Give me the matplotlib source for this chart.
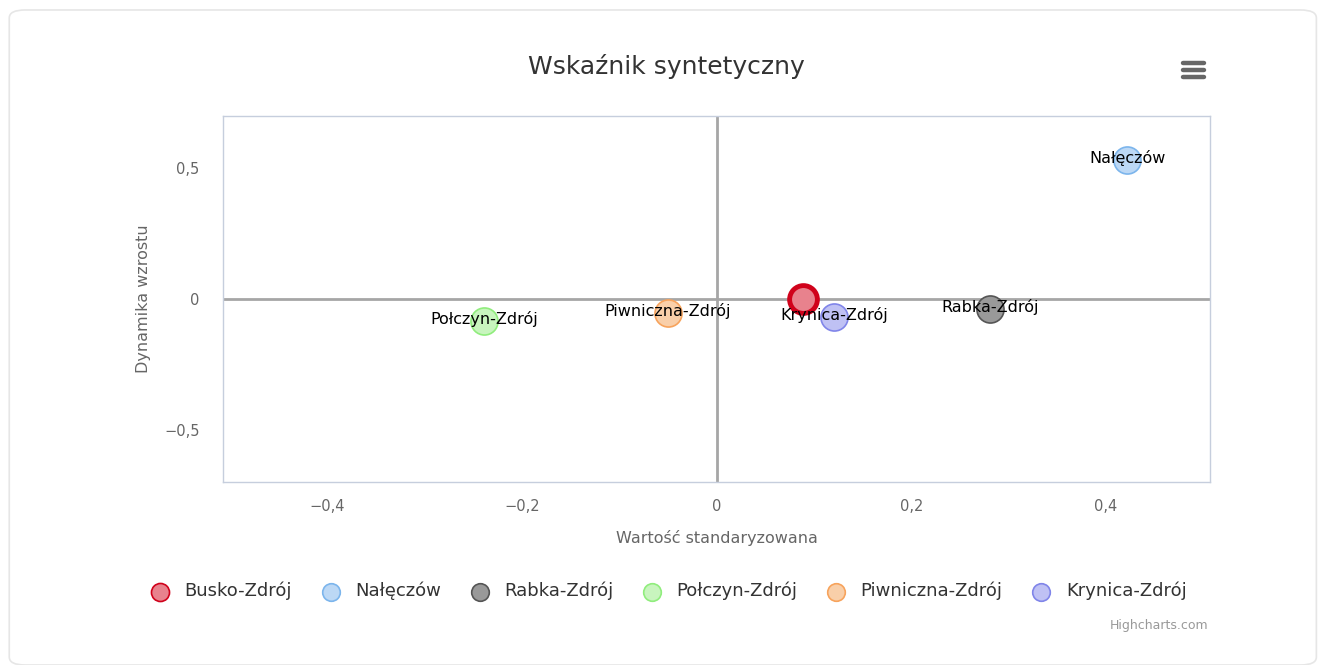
import matplotlib
matplotlib.use('Agg')
import matplotlib.pyplot as plt
from matplotlib.lines import Line2D
from matplotlib.patches import FancyBboxPatch
from matplotlib.ticker import FuncFormatter

# data
towns = ['Busko-Zdrój', 'Nałęczów', 'Rabka-Zdrój', 'Połczyn-Zdrój', 'Piwniczna-Zdrój', 'Krynica-Zdrój']
x_vals = [0.089, 0.422, 0.281, -0.239, -0.050, 0.121]
y_vals = [0.0, 0.530, -0.038, -0.084, -0.053, -0.069]
x_ticks = [-0.4, -0.2, 0, 0.2, 0.4]
y_ticks = [-0.5, 0, 0.5]

fills = ['#e8828d', '#bcd8f5', '#999999', '#c8f5be', '#f9cfa9', '#bfc1f4']
edges = ['#d0021b', '#7cb5ec', '#555555', '#90ed7d', '#f7a35c', '#8085e9']

plt.rcParams['font.family'] = ['DejaVu Sans']

fig = plt.figure(figsize=(13.23, 6.65), dpi=100)
fig.set_facecolor('w')

# card border
card = FancyBboxPatch((0.007, 0.0), 0.988, 0.985, boxstyle='round,pad=0,rounding_size=0.012',
                      transform=fig.transFigure, fc='none', ec='#e6e6e6', lw=1.2, zorder=0)
fig.patches.append(card)

ax = fig.add_axes([0.1686, 0.2752, 0.746, 0.5504])
ax.set_xlim(-0.507, 0.507)
ax.set_ylim(-0.7, 0.7)

# quadrant lines
ax.axhline(0, color='#a6a6a6', lw=2, zorder=1)
ax.axvline(0, color='#a6a6a6', lw=2, zorder=1)

for i, name in enumerate(towns):
    lw = 3.5 if i == 0 else 1.2
    size = 400 if i == 0 else 380
    ax.scatter(x_vals[i], y_vals[i], s=size, c=fills[i], edgecolors=edges[i],
               linewidths=lw, zorder=3, label=name)
    if i == 0:
        continue  # label hidden in the original (overlaps Krynica)
    ax.text(x_vals[i], y_vals[i] + 0.008, name, ha='center', va='center',
            fontsize=11.5, color='black', zorder=4)

for s in ax.spines.values():
    s.set_color('#c6cedd')
    s.set_linewidth(1)

ax.set_xticks(x_ticks)
ax.set_yticks(y_ticks)
fmt = FuncFormatter(lambda v, p: ('%g' % v).replace('.', ',').replace('-', '\u2212'))
ax.xaxis.set_major_formatter(fmt)
ax.yaxis.set_major_formatter(fmt)
ax.tick_params(axis='both', length=0, labelsize=10.5, colors='#666666')
ax.tick_params(axis='x', pad=12)
ax.tick_params(axis='y', pad=17)

ax.set_xlabel('Wartość standaryzowana', fontsize=11.5, color='#666666', labelpad=12)
ax.set_ylabel('Dynamika wzrostu', fontsize=11.5, color='#666666', labelpad=9)

fig.text(0.504, 0.9, 'Wskaźnik syntetyczny', ha='center', va='center', fontsize=18, color='#333333')

# menu icon
for yy in [63, 70, 77]:
    fig.add_artist(Line2D([1183 / 1323, 1204 / 1323], [1 - yy / 665, 1 - yy / 665],
                          color='#666666', lw=3.2, solid_capstyle='round'))

leg = fig.legend(loc='center', bbox_to_anchor=(0.502, 1 - 591 / 665), ncol=6, frameon=False,
                 fontsize=13, handletextpad=0.35, columnspacing=1.15, markerscale=0.65)
for t in leg.get_texts():
    t.set_color('#333333')
for h in leg.legend_handles:
    h.set_linewidth(1.2)

fig.text(1208 / 1323, 1 - 626 / 665, 'Highcharts.com', ha='right', va='center', fontsize=9, color='#999999')

fig.savefig('out.png', dpi=100, facecolor='w')
